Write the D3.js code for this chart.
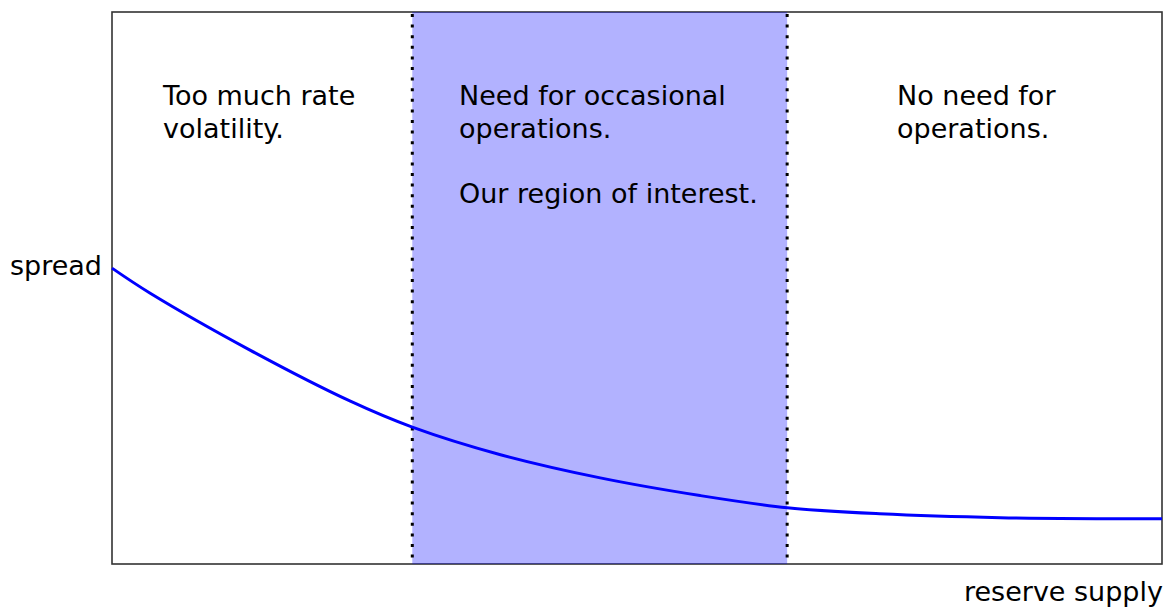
<!DOCTYPE html>
<html>
<head>
<meta charset="utf-8">
<script src="https://cdn.jsdelivr.net/npm/d3@7"></script>
<style>
  html, body { margin: 0; padding: 0; background: #fff; }
  svg { display: block; }
  text { font-family: "DejaVu Sans", Verdana, sans-serif; font-size: 27px; fill: #000; }
</style>
</head>
<body>
<svg id="chart" width="1169" height="609"></svg>
<script>
// Curve: reserve supply (x, 0..100) vs spread (y, 0..100)
const supply = [0, 3.6, 13.1, 22.7, 28.6, 37, 46.5, 56, 64.3, 73.1, 84.6, 100];
const spread = [53.6, 49.1, 38.8, 29.5, 24.8, 19.8, 15.6, 12.4, 10.2, 9.1, 8.4, 8.2];
// Shaded region of interest bounds (x)
const regionBounds = [28.6, 64.3];
// Annotation texts
const leftNote = ["Too much rate", "volatility."];
const midNote = ["Need for occasional", "operations.", "", "Our region of interest."];
const rightNote = ["No need for", "operations."];
const axisLabels = { x: "reserve supply", y: "spread" };

const svg = d3.select("#chart");
const margin = { left: 112, right: 7, top: 12, bottom: 45 };
const W = 1169, H = 609;
const x = d3.scaleLinear().domain([0, 100]).range([margin.left, W - margin.right]);
const y = d3.scaleLinear().domain([0, 100]).range([H - margin.bottom, margin.top]);

// Frame
svg.append("rect")
  .attr("x", x(0)).attr("y", y(100))
  .attr("width", x(100) - x(0)).attr("height", y(0) - y(100))
  .attr("fill", "none").attr("stroke", "#333").attr("stroke-width", 1.6);

// Shaded region
svg.append("rect")
  .attr("x", x(regionBounds[0])).attr("y", y(100))
  .attr("width", x(regionBounds[1]) - x(regionBounds[0]))
  .attr("height", y(0) - y(100))
  .attr("fill", "blue").attr("fill-opacity", 0.3);

// Dotted boundaries
svg.selectAll("line.bound").data(regionBounds).enter().append("line")
  .attr("class", "bound")
  .attr("x1", d => x(d)).attr("x2", d => x(d))
  .attr("y1", y(100) + 2).attr("y2", y(0))
  .attr("stroke", "#000").attr("stroke-width", 3)
  .attr("stroke-dasharray", "3 7.6");

// Curve
const pts = supply.map((s, i) => [s, spread[i]]);
svg.append("path")
  .datum(pts)
  .attr("fill", "none").attr("stroke", "#0000ff").attr("stroke-width", 3)
  .attr("d", d3.line().x(d => x(d[0])).y(d => y(d[1])).curve(d3.curveCatmullRom.alpha(0.5)));

// Notes
function note(lines, px, py) {
  const t = svg.append("text").attr("x", px).attr("y", py);
  lines.forEach((l, i) => {
    t.append("tspan").attr("x", px).attr("y", py + i * 32.5).text(l);
  });
}
note(leftNote, 163, 105);
note(midNote, 459, 105);
note(rightNote, 897, 105);

// Axis labels
svg.append("text").attr("x", 102).attr("y", y(53.6) + 7).attr("text-anchor", "end").text(axisLabels.y);
svg.append("text").attr("x", 1163).attr("y", 601).attr("text-anchor", "end").text(axisLabels.x);
</script>
</body>
</html>
